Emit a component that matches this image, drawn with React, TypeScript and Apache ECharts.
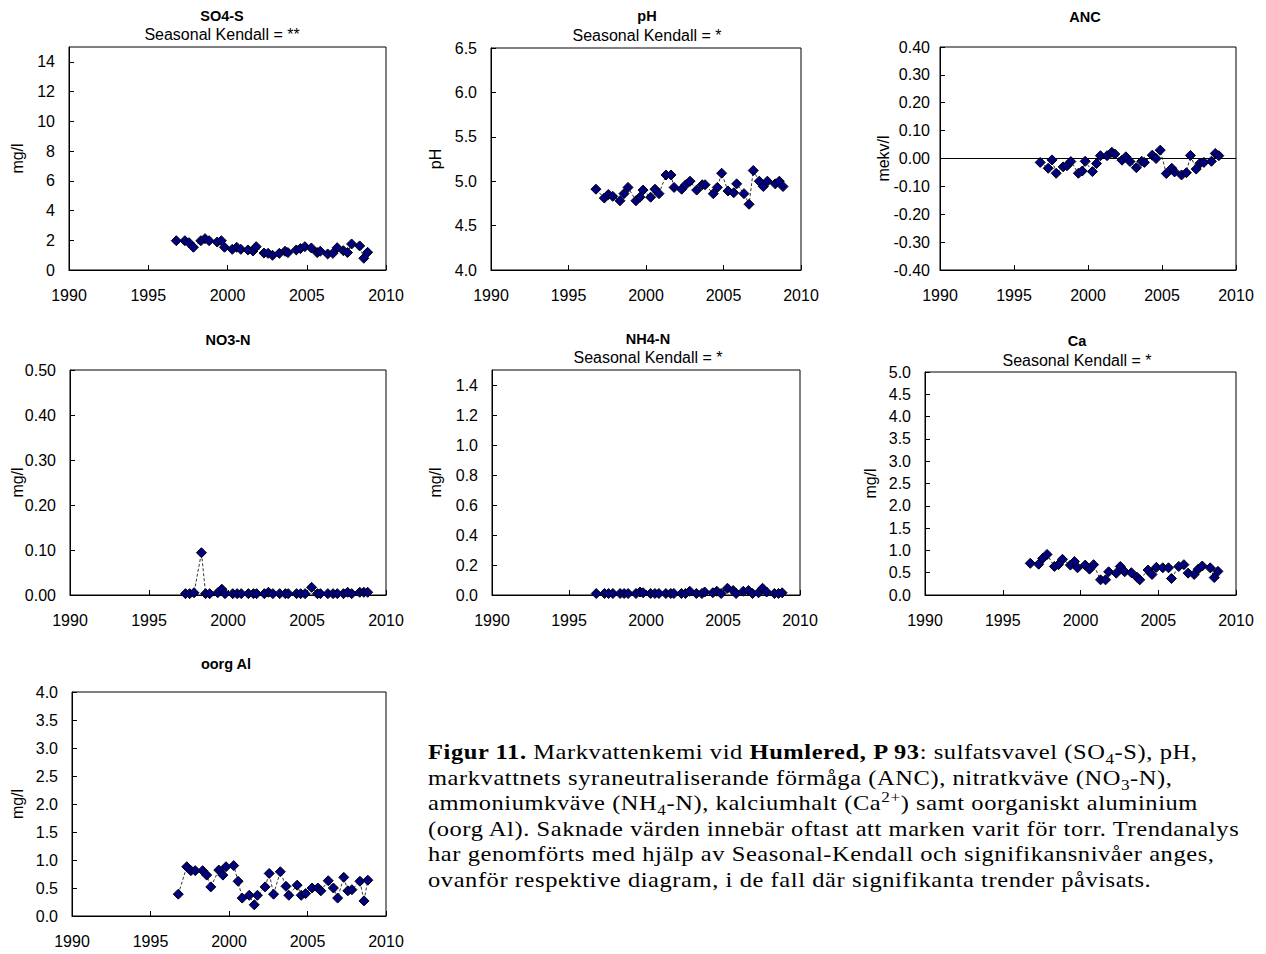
import React, { useEffect, useRef } from "react";
import * as echarts from "echarts";

// Sampling dates (decimal years), shared by all panels
const dates = [
  1996.77, 1997.31, 1997.57, 1997.85, 1998.32, 1998.58, 1998.84, 1999.35, 1999.61, 1999.81,
  2000.3, 2000.58, 2000.84, 2001.29, 2001.61, 2001.81, 2002.3, 2002.56, 2002.84, 2003.27,
  2003.63, 2003.81, 2004.34, 2004.6, 2004.88, 2005.29, 2005.66, 2005.85, 2006.32, 2006.65,
  2006.92, 2007.31, 2007.57, 2007.83, 2008.34, 2008.6, 2008.84,
];

const so4 = [
  1.97, 1.97, 1.84, 1.53, 1.97, 2.11, 1.97, 1.88, 1.97, 1.53, 1.39, 1.53, 1.39, 1.35, 1.28,
  1.57, 1.14, 1.12, 0.99, 1.12, 1.26, 1.17, 1.35, 1.44, 1.57, 1.48, 1.17, 1.26, 1.08, 1.12,
  1.5, 1.3, 1.17, 1.75, 1.62, 0.79, 1.19,
];
const ph = [
  4.91, 4.81, 4.85, 4.83, 4.78, 4.86, 4.93, 4.78, 4.82, 4.9, 4.82, 4.91, 4.86, 5.07, 5.07,
  4.93, 4.91, 4.96, 5.0, 4.9, 4.96, 4.96, 4.86, 4.93, 5.09, 4.89, 4.87, 4.97, 4.86, 4.74,
  5.12, 5.0, 4.94, 5.0, 4.97, 5.0, 4.94,
];
const anc = [
  -0.014, -0.035, -0.005, -0.053, -0.03, -0.026, -0.011, -0.053, -0.045, -0.01, -0.047, -0.018,
  0.01, 0.01, 0.022, 0.016, -0.006, 0.006, -0.011, -0.033, -0.01, -0.014, 0.012, 0.0, 0.03,
  -0.054, -0.035, -0.048, -0.059, -0.051, 0.011, -0.038, -0.017, -0.014, -0.01, 0.018, 0.01,
];
const no3 = [
  null, 0.003, 0.003, 0.005, 0.094, 0.003, 0.003, 0.005, 0.013, 0.003,
  0.003, 0.003, 0.003, 0.003, 0.003, 0.003, 0.003, 0.006, 0.003, 0.003,
  0.003, 0.003, 0.003, 0.003, 0.003, 0.017, 0.003, 0.003, 0.003, 0.003,
  0.003, 0.003, 0.006, 0.003, 0.006, 0.006, 0.006,
];
const nh4 = [
  0.01, 0.01, 0.01, 0.01, 0.01, 0.01, 0.01, 0.01, 0.02, 0.015, 0.01, 0.01, 0.01, 0.01, 0.01,
  0.01, 0.01, 0.01, 0.025, 0.01, 0.01, 0.02, 0.015, 0.025, 0.01, 0.045, 0.03, 0.01, 0.025,
  0.03, 0.01, 0.015, 0.045, 0.02, 0.01, 0.01, 0.015,
];
const ca = [
  0.71, 0.69, 0.82, 0.91, 0.64, 0.68, 0.8, 0.67, 0.75, 0.61, 0.67, 0.58, 0.68, 0.34, 0.34,
  0.52, 0.49, 0.64, 0.52, 0.5, 0.4, 0.34, 0.56, 0.46, 0.62, 0.61, 0.61, 0.37, 0.64, 0.68,
  0.49, 0.46, 0.58, 0.65, 0.61, 0.39, 0.53,
];
const oorgAl = [
  0.39, 0.88, 0.81, 0.81, 0.81, 0.73, 0.52, 0.82, 0.73, 0.88, 0.9, 0.62, 0.32, 0.37, 0.2,
  0.37, 0.52, 0.76, 0.39, 0.79, 0.53, 0.37, 0.55, 0.37, 0.4, 0.5, 0.5, 0.45, 0.63, 0.5,
  0.32, 0.69, 0.45, 0.47, 0.62, 0.27, 0.64,
];

const xMin = 1990;
const xMax = 2010;
const xStep = 5;

const FONT = '"Liberation Sans", Arial, sans-serif';

const panels = [
  { title: "SO4-S", sub: "Seasonal Kendall = **", data: so4, yName: "mg/l", yMin: 0, yMax: 15, yStep: 2, dec: 0,
    grid: { left: 69, top: 47, width: 317, height: 223 }, tx: 222, ty: 16, sy: 34, nameGap: 44, labelMargin: 14 },
  { title: "pH", sub: "Seasonal Kendall = *", data: ph, yName: "pH", yMin: 4, yMax: 6.5, yStep: 0.5, dec: 1,
    grid: { left: 491, top: 48, width: 310, height: 222 }, tx: 647, ty: 16, sy: 35, nameGap: 48, labelMargin: 14 },
  { title: "ANC", sub: "", data: anc, yName: "mekv/l", yMin: -0.4, yMax: 0.4, yStep: 0.1, dec: 2,
    grid: { left: 940, top: 47, width: 296, height: 223 }, tx: 1085, ty: 17, sy: 0, nameGap: 49, labelMargin: 10, zeroLine: true },
  { title: "NO3-N", sub: "", data: no3, yName: "mg/l", yMin: 0, yMax: 0.5, yStep: 0.1, dec: 2,
    grid: { left: 70, top: 370, width: 316, height: 225 }, tx: 228, ty: 340, sy: 0, nameGap: 45, labelMargin: 14 },
  { title: "NH4-N", sub: "Seasonal Kendall = *", data: nh4, yName: "mg/l", yMin: 0, yMax: 1.5, yStep: 0.2, dec: 1,
    grid: { left: 492, top: 370, width: 308, height: 225 }, tx: 648, ty: 339, sy: 357, nameGap: 49, labelMargin: 14 },
  { title: "Ca", sub: "Seasonal Kendall = *", data: ca, yName: "mg/l", yMin: 0, yMax: 5, yStep: 0.5, dec: 1,
    grid: { left: 925, top: 372, width: 311, height: 223 }, tx: 1077, ty: 341, sy: 360, nameGap: 47, labelMargin: 14 },
  { title: "oorg Al", sub: "", data: oorgAl, yName: "mg/l", yMin: 0, yMax: 4, yStep: 0.5, dec: 1,
    grid: { left: 72, top: 692, width: 314, height: 224 }, tx: 226, ty: 664, sy: 0, nameGap: 47, labelMargin: 14 },
];

const subStyle = { fontSize: "0.7em", lineHeight: 0 };

export default function App() {
  const ref = useRef<HTMLDivElement>(null);

  useEffect(() => {
    if (!ref.current) return;
    const chart = echarts.init(ref.current, null, { renderer: "svg" });

    const grids: any[] = [];
    const xAxes: any[] = [];
    const yAxes: any[] = [];
    const series: any[] = [];
    const graphics: any[] = [];

    panels.forEach((p, i) => {
      grids.push({ ...p.grid, show: true, borderColor: "#000", borderWidth: 1, backgroundColor: "transparent", containLabel: false });
      xAxes.push({
        type: "value",
        gridIndex: i,
        min: xMin,
        max: xMax,
        interval: xStep,
        axisLine: { show: true, onZero: false, lineStyle: { color: "#000", width: 1 } },
        axisTick: { show: true, inside: true, length: 5, lineStyle: { color: "#000" } },
        splitLine: { show: false },
        axisLabel: { color: "#000", fontSize: 16, margin: 17, fontFamily: FONT, formatter: (v: number) => String(v) },
      });
      const steps = (p.yMax - p.yMin) / p.yStep;
      const maxIsTick = Math.abs(steps - Math.round(steps)) < 1e-6;
      yAxes.push({
        type: "value",
        gridIndex: i,
        min: p.yMin,
        max: p.yMax,
        interval: p.yStep,
        name: p.yName,
        nameLocation: "middle",
        nameRotate: 90,
        nameGap: p.nameGap,
        nameMoveOverlap: false,
        nameTextStyle: { color: "#000", fontSize: 16, fontFamily: FONT },
        axisLine: { show: true, onZero: false, lineStyle: { color: "#000", width: 1 } },
        axisTick: { show: true, inside: true, length: 5, lineStyle: { color: "#000" } },
        splitLine: { show: false },
        axisLabel: {
          color: "#000",
          fontSize: 16,
          margin: p.labelMargin,
          fontFamily: FONT,
          showMaxLabel: maxIsTick,
          formatter: (v: number) => v.toFixed(p.dec),
        },
      });
      const pts = dates
        .map((d, j) => [d, p.data[j]])
        .filter((pt) => pt[1] !== null && pt[1] !== undefined);
      const s: any = {
        type: "line",
        xAxisIndex: i,
        yAxisIndex: i,
        data: pts,
        symbol: "diamond",
        symbolSize: 10,
        showSymbol: true,
        itemStyle: { color: "#000080", borderColor: "#000", borderWidth: 1 },
        lineStyle: { color: "#000", width: 0.8, type: [3, 2] },
        emphasis: { disabled: true },
        z: 3,
      };
      if ((p as any).zeroLine) {
        s.markLine = {
          silent: true,
          symbol: "none",
          label: { show: false },
          lineStyle: { color: "#000", width: 1, type: "solid" },
          data: [{ yAxis: 0 }],
          z: 1,
        };
      }
      series.push(s);

      graphics.push({
        type: "text",
        x: p.tx,
        y: p.ty,
        style: {
          text: p.title,
          font: `bold 14.5px ${FONT}`,
          fill: "#000",
          align: "center",
          verticalAlign: "middle",
          textAlign: "center",
          textVerticalAlign: "middle",
        },
      });
      if (p.sub) {
        graphics.push({
          type: "text",
          x: p.tx,
          y: p.sy,
          style: {
            text: p.sub,
            font: `16px ${FONT}`,
            fill: "#000",
            align: "center",
            verticalAlign: "middle",
            textAlign: "center",
            textVerticalAlign: "middle",
          },
        });
      }
    });

    chart.setOption({
      animation: false,
      backgroundColor: "#fff",
      textStyle: { fontFamily: FONT },
      grid: grids,
      xAxis: xAxes,
      yAxis: yAxes,
      series,
      graphic: graphics,
    });

    return () => chart.dispose();
  }, []);

  return (
    <div style={{ position: "absolute", left: 0, top: 0, width: 1266, height: 954, background: "#fff" }}>
      <div ref={ref} style={{ position: "absolute", left: 0, top: 0, width: 1266, height: 954 }} />
      <div
        style={{
          position: "absolute",
          left: 428,
          top: 740,
          fontFamily: '"Liberation Serif", "Times New Roman", serif',
          fontSize: 21,
          letterSpacing: "0.5px",
          lineHeight: "25.5px",
          color: "#000",
          whiteSpace: "nowrap",
          transform: "scaleX(1.165)",
          transformOrigin: "left top",
        }}
      >
        <b>Figur 11.</b> Markvattenkemi vid <b>Humlered, P 93</b>: sulfatsvavel (SO<sub style={subStyle}>4</sub>-S), pH,
        <br />
        markvattnets syraneutraliserande förmåga (ANC), nitratkväve (NO<sub style={subStyle}>3</sub>-N),
        <br />
        ammoniumkväve (NH<sub style={subStyle}>4</sub>-N), kalciumhalt (Ca<sup style={subStyle}>2+</sup>) samt oorganiskt aluminium
        <br />
        (oorg Al). Saknade värden innebär oftast att marken varit för torr. Trendanalys
        <br />
        har genomförts med hjälp av Seasonal-Kendall och signifikansnivåer anges,
        <br />
        ovanför respektive diagram, i de fall där signifikanta trender påvisats.
      </div>
    </div>
  );
}
